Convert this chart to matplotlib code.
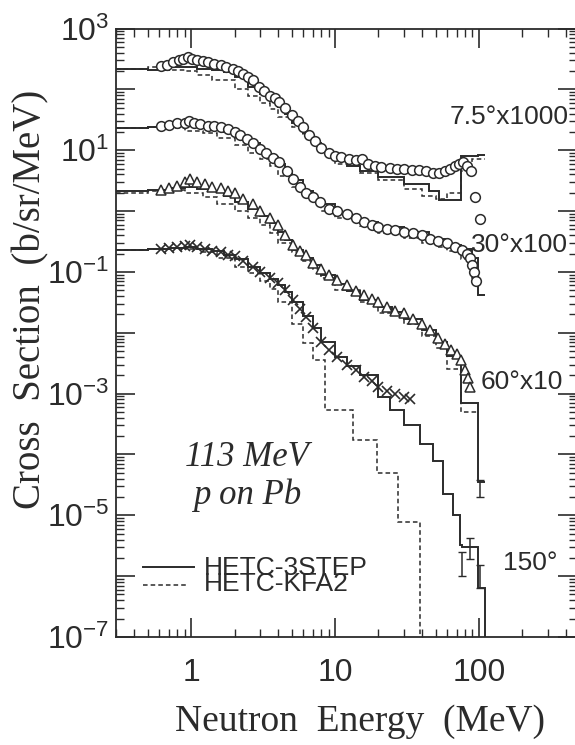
import numpy as np
import matplotlib.pyplot as plt
from matplotlib.ticker import LogLocator, FuncFormatter, NullFormatter

plt.rcParams['font.family'] = 'Liberation Sans'
plt.rcParams['mathtext.fontset'] = 'custom'
plt.rcParams['mathtext.rm'] = 'Liberation Sans'
plt.rcParams['mathtext.it'] = 'Liberation Sans:italic'

# Datos medidos (b/sr/MeV, sin factor de escala)
e_075 = [0.62, 0.68, 0.75, 0.82, 0.88, 0.95, 1.02, 1.1, 1.2, 1.3, 1.45, 1.6, 1.75, 1.95,
         2.1, 2.3, 2.5, 2.7, 2.95, 3.2, 3.5, 3.8, 4.1, 4.5, 5.0, 5.5, 6.0, 6.6, 7.2, 8.0,
         9.0, 10, 11, 12.5, 14, 15.5, 17, 19, 21, 24, 27, 30, 34, 38, 43, 48, 53, 58,
         63, 68, 73, 78, 83, 88, 94, 102]
xs_075 = [0.24, 0.25, 0.28, 0.30, 0.32, 0.34, 0.32, 0.30, 0.295, 0.28, 0.26, 0.25, 0.235, 0.22,
          0.20, 0.18, 0.16, 0.14, 0.11, 0.093, 0.079, 0.071, 0.063, 0.050, 0.038, 0.030, 0.024,
          0.018, 0.014, 0.011, 0.0091, 0.0079, 0.0076, 0.0071, 0.0069, 0.0072, 0.0060, 0.0055,
          0.0052, 0.0051, 0.0050, 0.0049, 0.0048, 0.0047, 0.0045, 0.0043, 0.0043, 0.0046,
          0.0050, 0.0055, 0.0060, 0.0063, 0.0055, 0.0045, 0.0017, 0.00074]

e_30 = [0.62, 0.7, 0.8, 0.9, 0.97, 1.05, 1.15, 1.3, 1.45, 1.6, 1.8, 2.0, 2.2, 2.45, 2.7,
        3.0, 3.3, 3.7, 4.1, 4.6, 5.1, 5.7, 6.3, 7.0, 7.9, 9.0, 10.3, 12, 14, 16, 18, 20,
        23, 26, 30, 35, 40, 46, 52, 60, 68, 76, 82, 86, 89, 92, 96]
xs_30 = [0.25, 0.26, 0.275, 0.28, 0.30, 0.275, 0.27, 0.25, 0.25, 0.24, 0.22, 0.20, 0.18,
         0.15, 0.13, 0.105, 0.089, 0.074, 0.063, 0.046, 0.034, 0.025, 0.020, 0.017, 0.014,
         0.011, 0.010, 0.0089, 0.0076, 0.0066, 0.0060, 0.0055, 0.0050, 0.0048, 0.0046,
         0.0043, 0.0040, 0.0035, 0.0032, 0.0030, 0.0026, 0.0023, 0.0020, 0.0017, 0.0013,
         0.0010, 0.00071]

e_60 = [0.62, 0.7, 0.8, 0.9, 0.98, 1.1, 1.25, 1.4, 1.6, 1.8, 2.0, 2.3, 2.7, 3.0, 3.5, 4.0,
        4.5, 5.1, 5.7, 6.3, 7.0, 8.0, 9.0, 10.3, 12, 14, 16, 18, 20, 23, 26, 30, 35, 40,
        46, 52, 58, 64, 70, 75, 80, 84, 87]
xs_60 = [0.22, 0.24, 0.26, 0.30, 0.33, 0.30, 0.28, 0.25, 0.24, 0.21, 0.195, 0.16, 0.13,
         0.10, 0.076, 0.058, 0.040, 0.028, 0.022, 0.019, 0.014, 0.011, 0.0089, 0.0074,
         0.0060, 0.0048, 0.0042, 0.0036, 0.0032, 0.0027, 0.0023, 0.0021, 0.0017, 0.0014,
         0.0011, 0.00083, 0.00066, 0.00052, 0.00045, 0.00035, 0.00024, 0.00018, 0.00013]

e_150 = [0.62, 0.7, 0.8, 0.9, 0.98, 1.1, 1.25, 1.4, 1.6, 1.8, 2.0, 2.3, 2.7, 3.0, 3.5,
         4.0, 4.5, 5.1, 5.7, 6.3, 7.0, 8.0, 9.0, 10.3, 12, 14, 16, 18, 20, 23, 26, 30, 33]
xs_150 = [0.24, 0.25, 0.26, 0.27, 0.28, 0.26, 0.24, 0.22, 0.21, 0.19, 0.18, 0.15, 0.12,
          0.10, 0.079, 0.066, 0.050, 0.035, 0.025, 0.018, 0.012, 0.0071, 0.0052, 0.0040,
          0.0030, 0.0024, 0.0019, 0.0016, 0.0013, 0.0011, 0.0010, 0.00089, 0.00083]

# puntos con barra de error a alta energia
e_150_err = [76, 86, 101]
xs_150_err = [1.6e-6, 2.8e-6, 1.0e-6]
err_150_lo = [0.6e-6, 0.9e-6, 0.35e-6]
err_150_hi = [0.9e-6, 1.4e-6, 0.5e-6]
e_60_err = [101]
xs_60_err = [2.8e-6]
err_60_lo = [0.8e-6]
err_60_hi = [1.0e-6]

# HETC-3STEP (histogramas)
b3_075 = [0.3, 0.5, 0.7, 0.9, 1.1, 1.4, 1.7, 2.0, 2.5, 3.0, 3.5, 4.0, 4.5, 5.0, 6.0, 7.0,
          8.0, 10, 12, 15, 20, 30, 45, 53, 75, 98, 110]
h3_075 = [0.22, 0.21, 0.23, 0.23, 0.22, 0.21, 0.19, 0.16, 0.11, 0.083, 0.066, 0.052, 0.040,
          0.028, 0.019, 0.013, 0.0095, 0.0071, 0.0056, 0.0045, 0.0036, 0.0028, 0.0021,
          0.0015, 0.0079, 0.0083]
b3_30 = [0.3, 0.5, 0.7, 0.9, 1.1, 1.4, 1.7, 2.0, 2.5, 3.0, 3.5, 4.0, 4.5, 5.0, 6.0, 7.0,
         8.0, 10, 12, 15, 20, 30, 45, 60, 75, 90, 98, 110]
h3_30 = [0.23, 0.24, 0.25, 0.25, 0.24, 0.23, 0.20, 0.17, 0.13, 0.095, 0.076, 0.060, 0.046,
         0.032, 0.021, 0.016, 0.013, 0.0095, 0.0079, 0.0066, 0.0055, 0.0045, 0.0035, 0.0028,
         0.0024, 0.0017, 0.00042]
b3_60 = [0.3, 0.5, 0.7, 0.9, 1.1, 1.4, 1.7, 2.0, 2.5, 3.0, 3.5, 4.0, 4.5, 5.0, 6.0, 7.0,
         8.0, 10, 12, 15, 20, 25, 30, 40, 50, 60, 75, 98, 110]
h3_60 = [0.21, 0.22, 0.24, 0.25, 0.23, 0.21, 0.18, 0.14, 0.11, 0.083, 0.063, 0.046, 0.033,
         0.023, 0.017, 0.013, 0.0089, 0.0063, 0.0048, 0.0035, 0.0026, 0.0022, 0.0017, 0.0011,
         0.00071, 0.00042, 0.000071, 0.0000035]
b3_150 = [0.3, 0.5, 0.7, 0.9, 1.1, 1.4, 1.7, 2.0, 2.5, 3.0, 3.5, 4.0, 4.5, 5.0, 6.0, 7.0,
          8.0, 10, 12, 15, 20, 24, 30, 39, 48, 56, 66, 74, 76, 98, 110, 120]
h3_150 = [0.23, 0.24, 0.25, 0.26, 0.24, 0.22, 0.19, 0.16, 0.12, 0.095, 0.076, 0.060, 0.046,
          0.032, 0.019, 0.012, 0.0071, 0.0040, 0.0028, 0.0020, 0.00089, 0.00054, 0.00030,
          0.00015, 0.000079, 0.000022, 0.00001, 3.2e-6, 3.0e-6, 6.3e-7, 1e-9]

# HETC-KFA2 (histogramas)
bk_075 = [0.3, 0.5, 0.7, 0.9, 1.1, 1.4, 2.0, 2.5, 3.0, 3.5, 4.0, 5.0, 6.0, 7.0, 8.0, 10,
          15, 20, 30, 40, 50, 60, 75, 90, 110]
hk_075 = [0.22, 0.23, 0.21, 0.20, 0.17, 0.14, 0.10, 0.079, 0.060, 0.048, 0.035, 0.024,
          0.017, 0.012, 0.0089, 0.0060, 0.0042, 0.0032, 0.0023, 0.0018, 0.0016, 0.0020,
          0.0045, 0.0071]
bk_30 = [0.3, 0.5, 0.7, 0.9, 1.2, 1.5, 2.0, 2.5, 3.0, 3.5, 4.0, 5.0, 6.0, 7.0, 8.0, 10,
         15, 20, 30, 40, 50, 60, 75, 90, 100]
hk_30 = [0.23, 0.24, 0.23, 0.21, 0.19, 0.16, 0.12, 0.091, 0.071, 0.055, 0.038, 0.025,
         0.018, 0.014, 0.010, 0.0076, 0.0056, 0.0044, 0.0036, 0.0030, 0.0026, 0.0022,
         0.0016, 0.00079]
bk_60 = [0.3, 0.5, 0.7, 0.9, 1.2, 1.5, 2.0, 2.5, 3.0, 3.5, 4.0, 5.0, 6.0, 7.0, 8.0, 10,
         15, 20, 30, 40, 50, 60, 75, 100]
hk_60 = [0.20, 0.21, 0.22, 0.20, 0.17, 0.13, 0.10, 0.076, 0.060, 0.044, 0.030, 0.021,
         0.015, 0.011, 0.0079, 0.0050, 0.0032, 0.0021, 0.0014, 0.00089, 0.00056, 0.00025,
         0.00005]
bk_150 = [0.3, 0.5, 0.7, 0.9, 1.2, 1.5, 2.0, 2.5, 3.0, 3.5, 4.0, 5.0, 6.0, 7.0, 8.5, 13.3,
          19.5, 27.5, 39, 50]
hk_150 = [0.23, 0.24, 0.25, 0.24, 0.21, 0.17, 0.12, 0.095, 0.072, 0.052, 0.032, 0.014,
          0.0068, 0.0035, 0.00054, 0.00017, 4.9e-5, 7.9e-6, 1e-9]

factores = [1000, 100, 10, 1]
etiquetas = ['7.5°x1000', '30°x100', '60°x10', '150°']

tinta = '#2b2b2b'

fig = plt.figure(figsize=(5.75, 7.45), dpi=100)
ax = fig.add_axes([116 / 575, 1 - 637 / 745, (577 - 116) / 575, (637 - 28.5) / 745])
ax.set_xscale('log')
ax.set_yscale('log')

series = [
    (e_075, xs_075, b3_075, h3_075, bk_075, hk_075, 'o'),
    (e_30, xs_30, b3_30, h3_30, bk_30, hk_30, 'o'),
    (e_60, xs_60, b3_60, h3_60, bk_60, hk_60, '^'),
    (e_150, xs_150, b3_150, h3_150, bk_150, hk_150, 'x'),
]

for (e, xs, b3, h3, bk, hk, mk), f in zip(series, factores):
    ax.stairs(np.array(h3) * f, b3, baseline=None, color=tinta, lw=1.4, zorder=2)
    ax.stairs(np.array(hk) * f, bk, baseline=None, color=tinta, lw=1.1,
              linestyle=(0, (3, 2)), zorder=2)
    if mk == 'x':
        ax.plot(e, np.array(xs) * f, 'x', color=tinta, ms=6.5, mew=1.2, zorder=3)
    else:
        ax.plot(e, np.array(xs) * f, mk, mfc='white', mec=tinta, ms=7, mew=1.1, zorder=3)

ax.errorbar(e_150_err, xs_150_err, yerr=[err_150_lo, err_150_hi], fmt='none',
            ecolor=tinta, elinewidth=1.1, capsize=3, zorder=3)
ax.errorbar(e_60_err, np.array(xs_60_err) * 10, yerr=[np.array(err_60_lo) * 10,
            np.array(err_60_hi) * 10], fmt='none', ecolor=tinta, elinewidth=1.1,
            capsize=3, zorder=3)

ax.set_xlim(0.30, 480)
ax.set_ylim(1e-7, 1e3)

ax.xaxis.set_major_locator(LogLocator(base=10, numticks=10))
ax.xaxis.set_minor_locator(LogLocator(base=10, subs=np.arange(2, 10), numticks=10))
ax.xaxis.set_major_formatter(FuncFormatter(lambda v, p: f'{v:g}'))
ax.xaxis.set_minor_formatter(NullFormatter())

def etiqueta_y(v, p):
    k = int(round(np.log10(v)))
    return f'$10^{{{k}}}$' if k % 2 else ''

ax.yaxis.set_major_locator(LogLocator(base=10, numticks=20))
ax.yaxis.set_minor_locator(LogLocator(base=10, subs=np.arange(2, 10), numticks=20))
ax.yaxis.set_major_formatter(FuncFormatter(etiqueta_y))
ax.yaxis.set_minor_formatter(NullFormatter())

ax.tick_params(which='both', direction='in', top=True, right=True, color=tinta,
               labelcolor=tinta)
ax.tick_params(which='major', length=14, width=1.2, labelsize=23)
ax.tick_params(which='minor', length=6, width=1.0)
ax.tick_params(axis='x', which='major', pad=15)
ax.tick_params(axis='y', which='major', pad=5)
for s in ax.spines.values():
    s.set_color(tinta)
    s.set_linewidth(1.3)

ax.set_xlabel('Neutron  Energy  (MeV)', family='Liberation Serif', fontsize=27, color=tinta)
ax.set_ylabel('Cross  Section  (b/sr/MeV)', family='Liberation Serif', fontsize=28,
              color=tinta)
ax.xaxis.set_label_coords(0.53, -0.11)
ax.yaxis.set_label_coords(-0.145, 0.555)

# etiquetas de angulo
pos_etiquetas = [(0.724, 0.855), (0.770, 0.645), (0.790, 0.419), (0.839, 0.121)]
for txt, (px, py) in zip(etiquetas, pos_etiquetas):
    ax.text(px, py, txt, transform=ax.transAxes, fontsize=19, color=tinta,
            ha='left', va='center', clip_on=False)

ax.text(0.284, 0.264, '113 MeV\np on Pb', transform=ax.transAxes, ha='center',
        va='center', family='Liberation Serif', style='italic', fontsize=25,
        color=tinta, linespacing=1.15)

# leyenda dibujada a mano (renglones muy juntos como en el original)
ax.plot([0.0586, 0.169], [0.115, 0.115], transform=ax.transAxes, color=tinta, lw=1.4)
ax.plot([0.0586, 0.156], [0.0855, 0.0855], transform=ax.transAxes, color=tinta, lw=1.1,
        linestyle=(0, (3, 2)))
ax.text(0.191, 0.1002, 'HETC-3STEP\nHETC-KFA2', transform=ax.transAxes, fontsize=19,
        color=tinta, ha='left', va='center', linespacing=0.62)

fig.savefig('out.png', dpi=100)
